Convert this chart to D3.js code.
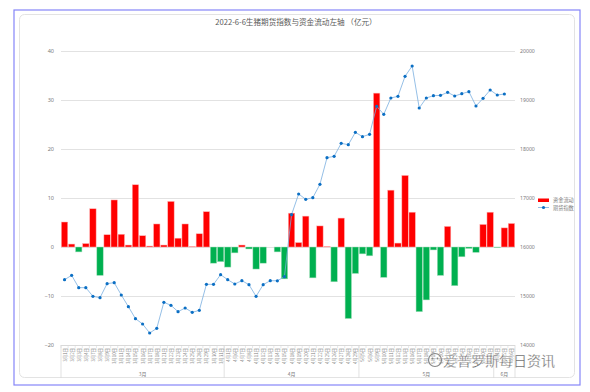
<!DOCTYPE html>
<html><head><meta charset="utf-8">
<script src="https://cdn.jsdelivr.net/npm/d3@7"></script>
<style>
html,body{margin:0;padding:0;background:#fff;}
svg{display:block;font-family:"Noto Sans CJK SC","Noto Sans",sans-serif;}
</style></head><body>
<svg id="c" width="590" height="392"></svg>
<script>
const title = "2022-6-6生猪期货指数与资金流动左轴 （亿元）";
const dates = [
"3月1日","3月2日","3月3日","3月4日","3月7日","3月8日","3月9日","3月10日","3月11日","3月14日","3月15日","3月16日","3月17日","3月18日","3月21日","3月22日","3月23日","3月24日","3月25日","3月28日","3月29日","3月30日","3月31日",
"4月1日","4月6日","4月7日","4月8日","4月11日","4月12日","4月13日","4月14日","4月15日","4月18日","4月19日","4月20日","4月21日","4月22日","4月25日","4月26日","4月27日","4月28日","4月29日",
"5月5日","5月6日","5月9日","5月10日","5月11日","5月12日","5月13日","5月16日","5月17日","5月18日","5月19日","5月20日","5月23日","5月24日","5月25日","5月26日","5月27日","5月30日","5月31日",
"6月1日","6月2日","6月6日"];
const months = ["3月","4月","5月","6月"];
const monthCounts = [23,19,19,3];
const flows = [5.1,0.6,-1.0,0.7,7.8,-5.8,2.5,9.6,2.6,0.4,12.7,2.3,0.2,4.7,0.4,9.3,1.8,4.7,0.1,2.7,7.2,-3.3,-3.0,
-4.1,-1.2,0.4,-0.4,-4.5,-3.3,0,-1.0,-6.5,6.9,0.9,6.3,-6.3,4.3,0.1,-7.1,5.9,-14.6,-5.4,
-1.4,-1.8,31.4,-6.2,11.6,0.8,14.6,7.1,-13.2,-10.8,-0.6,-5.8,4.2,-7.9,-2.0,-0.3,-1.1,4.6,7.1,
-0.1,3.9,4.8];
const index = [15333,15422,15170,15170,14993,14966,15252,15272,15020,14782,14537,14429,14245,14340,14871,14810,14680,14755,14667,14707,15238,15238,15435,
15333,15245,15313,15231,14993,15231,15313,15310,15395,16660,17082,16973,17007,17279,17823,17850,18116,18088,18340,
18252,18299,18871,18707,19041,19075,19483,19694,18837,19041,19088,19095,19156,19082,19129,19170,18878,19034,19204,
19102,19122];
const leftTicks = [-20,-10,0,10,20,30,40];
const rightTicks = [14000,15000,16000,17000,18000,19000,20000];
const legendNames = ["资金流动","期货指数"];
const watermark = "爱普罗斯每日资讯";

const svg = d3.select("#c");
const X0 = 61, X1 = 515, YT = 51, YB = 345;

// frames
svg.append("rect").attr("x",14).attr("y",10).attr("width",566).attr("height",375)
  .attr("fill","none").attr("stroke","#8585f8").attr("stroke-width",1.2);
svg.append("rect").attr("x",19.5).attr("y",14.5).attr("width",555).attr("height",363)
  .attr("rx",5).attr("fill","none").attr("stroke","#e3e3e3").attr("stroke-width",1);

svg.append("text").attr("x",296).attr("y",25).attr("text-anchor","middle")
  .attr("font-size",7.6).attr("fill","#595959").text(title);

const x = d3.scaleBand().domain(dates).range([X0,X1]).paddingInner(0.1).paddingOuter(0.05);
const yL = d3.scaleLinear().domain([-20,40]).range([YB,YT]);
const yR = d3.scaleLinear().domain([14000,20000]).range([YB,YT]);

// gridlines
svg.append("g").selectAll("line").data(leftTicks).join("line")
  .attr("x1",X0).attr("x2",X1).attr("y1",d=>Math.round(yL(d))+0.5).attr("y2",d=>Math.round(yL(d))+0.5)
  .attr("stroke","#e2e2e2").attr("stroke-width",1);

// left axis
const gl = svg.append("g").attr("transform",`translate(${X0},0)`)
  .call(d3.axisLeft(yL).tickValues(leftTicks).tickSize(0).tickPadding(7));
gl.select(".domain").remove();
gl.selectAll("text").attr("font-size",5.5).attr("fill","#7a7a7a").attr("font-family","Noto Sans, sans-serif");

// right axis
const gr = svg.append("g").attr("transform",`translate(${X1},0)`)
  .call(d3.axisRight(yR).tickValues(rightTicks).tickSize(0).tickPadding(5).tickFormat(d3.format("d")));
gr.select(".domain").remove();
gr.selectAll("text").attr("font-size",5.2).attr("fill","#7a7a7a").attr("font-family","Noto Sans, sans-serif");

// bars
svg.append("g").selectAll("rect").data(flows).join("rect")
  .attr("x",(d,i)=>x(dates[i]))
  .attr("width",x.bandwidth())
  .attr("y",d=>d>=0?yL(d):yL(0))
  .attr("height",d=>Math.abs(yL(d)-yL(0)))
  .attr("fill",d=>d>=0?"#ff0000":"#00b050")
  .attr("stroke",d=>d>=0?"#ffb0b0":"#a6dfbd").attr("stroke-width",0.5);

// line
const cx = i => x(dates[i]) + x.bandwidth()/2;
svg.append("path").datum(index)
  .attr("d", d3.line().x((d,i)=>cx(i)).y(d=>yR(d)))
  .attr("fill","none").attr("stroke","#7aafe0").attr("stroke-width",0.8);
svg.append("g").selectAll("circle").data(index).join("circle")
  .attr("cx",(d,i)=>cx(i)).attr("cy",d=>yR(d)).attr("r",1.6).attr("fill","#0b6fc4");

// category axis
const ax = svg.append("g");
ax.append("line").attr("x1",X0).attr("x2",X1).attr("y1",YB+0.5).attr("y2",YB+0.5).attr("stroke","#d9d9d9");
dates.forEach((d,i)=>{
  const xe = X0 + (i)*(X1-X0)/dates.length;
  ax.append("line").attr("x1",xe).attr("x2",xe).attr("y1",YB).attr("y2",YB+3).attr("stroke","#d9d9d9").attr("stroke-width",0.6);
});
let acc = 0;
const bounds = [X0];
monthCounts.forEach(c=>{acc+=c; bounds.push(X0 + acc*(X1-X0)/dates.length);});
bounds.forEach(b=>{
  ax.append("line").attr("x1",b).attr("x2",b).attr("y1",YB).attr("y2",378).attr("stroke","#d9d9d9").attr("stroke-width",0.8);
});
months.forEach((m,i)=>{
  ax.append("text").attr("x",(bounds[i]+bounds[i+1])/2).attr("y",376)
    .attr("text-anchor","middle").attr("font-size",5).attr("fill","#7a7a7a").text(m);
});
ax.selectAll("text.lab").data(dates).join("text").attr("class","lab")
  .attr("transform",(d,i)=>`translate(${cx(i)},${YB+3}) rotate(-90)`)
  .attr("text-anchor","end").attr("dominant-baseline","central")
  .attr("font-size",4.4).attr("fill","#7a7a7a").text(d=>d);

// legend
const lg = svg.append("g");
lg.append("rect").attr("x",538).attr("y",198.5).attr("width",11).attr("height",3.5).attr("fill","#ff0000");
lg.append("text").attr("x",553).attr("y",202).attr("font-size",5.2).attr("fill","#7a7a7a").text(legendNames[0]);
lg.append("line").attr("x1",538).attr("x2",549).attr("y1",207.5).attr("y2",207.5).attr("stroke","#7aafe0").attr("stroke-width",0.8);
lg.append("circle").attr("cx",543.5).attr("cy",207.5).attr("r",1.6).attr("fill","#0b6fc4");
lg.append("text").attr("x",553).attr("y",209.5).attr("font-size",5.2).attr("fill","#7a7a7a").text(legendNames[1]);

// watermark
const wm = svg.append("g");
wm.append("circle").attr("cx",435).attr("cy",360).attr("r",6.5).attr("fill","none").attr("stroke","#888").attr("stroke-width",1.2);
wm.append("circle").attr("cx",432.5).attr("cy",358.5).attr("r",1).attr("fill","#888");
wm.append("circle").attr("cx",437.5).attr("cy",358.5).attr("r",1).attr("fill","#888");
wm.append("text").attr("x",443).attr("y",366).attr("font-size",14).attr("fill","#5a5a5a")
  .attr("stroke","#fff").attr("stroke-width",0.3).text(watermark);
</script>
</body></html>
